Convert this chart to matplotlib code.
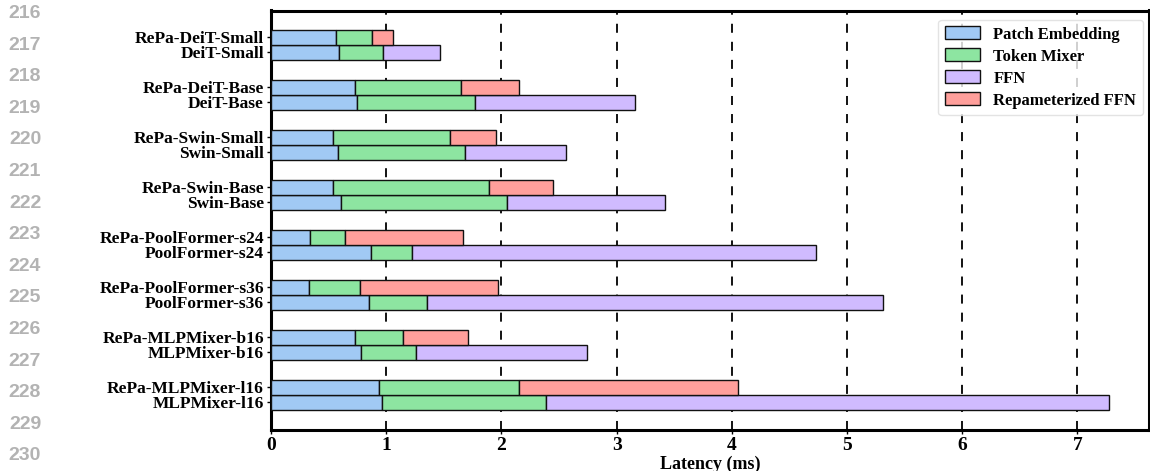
import matplotlib.pyplot as plt
import numpy as np

models = ['DeiT-Small', 'DeiT-Base', 'Swin-Small', 'Swin-Base',
          'PoolFormer-s24', 'PoolFormer-s36', 'MLPMixer-b16', 'MLPMixer-l16']

# latency of each part (ms), original models
base_patch = [0.59, 0.75, 0.58, 0.61, 0.87, 0.85, 0.78, 0.96]
base_mixer = [0.38, 1.02, 1.10, 1.44, 0.35, 0.50, 0.48, 1.43]
base_ffn = [0.50, 1.39, 0.88, 1.37, 3.51, 3.96, 1.48, 4.88]

# latency of each part (ms), RePa models
repa_patch = [0.56, 0.73, 0.54, 0.54, 0.34, 0.33, 0.73, 0.94]
repa_mixer = [0.32, 0.92, 1.01, 1.35, 0.30, 0.44, 0.42, 1.21]
repa_ffn = [0.18, 0.50, 0.40, 0.56, 1.03, 1.20, 0.56, 1.90]

parts = ['Patch Embedding', 'Token Mixer', 'FFN', 'Repameterized FFN']
colors = ['#a1c9f4', '#8de5a1', '#d0bbff', '#ff9f9b']

line_numbers = list(range(216, 231))

serif = 'Liberation Serif'

fig = plt.figure(figsize=(11.5, 4.71), dpi=100)
ax = fig.add_axes([271 / 1150, 41 / 471, 878 / 1150, 419.5 / 471])

idx = np.arange(len(models))
h = 0.3
y_repa = idx - h / 2
y_base = idx + h / 2
kw = dict(height=h, edgecolor='#111111', linewidth=1.0, zorder=3)

left = np.zeros(len(models))
ax.barh(y_base, base_patch, left=left, color=colors[0], label=parts[0], **kw)
left += base_patch
ax.barh(y_base, base_mixer, left=left, color=colors[1], label=parts[1], **kw)
left += base_mixer
ax.barh(y_base, base_ffn, left=left, color=colors[2], label=parts[2], **kw)

left = np.zeros(len(models))
ax.barh(y_repa, repa_patch, left=left, color=colors[0], **kw)
left += repa_patch
ax.barh(y_repa, repa_mixer, left=left, color=colors[1], **kw)
left += repa_mixer
ax.barh(y_repa, repa_ffn, left=left, color=colors[3], label=parts[3], **kw)

yt = np.concatenate([y_repa, y_base])
yl = ['RePa-' + m for m in models] + models
ax.set_yticks(yt)
ax.set_yticklabels(yl, fontfamily=serif, fontweight='bold', fontsize=12.5)
ax.set_ylim(7.7, -0.68)
ax.set_xlim(0, 878 / 115.2)
ax.set_xticks(range(8))
ax.set_xticklabels([str(i) for i in range(8)], fontfamily=serif, fontweight='bold', fontsize=14)
ax.set_xlabel('Latency (ms)', fontfamily=serif, fontweight='bold', fontsize=13, labelpad=1)
ax.tick_params(axis='both', length=3, width=1, pad=2)

for x in range(1, 8):
    ax.axvline(x, color='black', linestyle=(0, (5, 5)), linewidth=1.3, zorder=1)

for s in ax.spines.values():
    s.set_linewidth(2.2)

leg = ax.legend(loc='upper right', bbox_to_anchor=(0.993, 0.978), borderaxespad=0,
                prop={'family': serif, 'weight': 'bold', 'size': 12},
                labelspacing=0.35, handlelength=2.1, handleheight=0.8,
                fancybox=True, edgecolor='#dddddd')

for k, n in enumerate(line_numbers):
    fig.text(25 / 1150, 1 - (13.5 + 31.6 * k) / 471, str(n), ha='center', va='center',
             fontfamily='Liberation Sans', fontweight='bold', fontsize=14, color='#b3b3b3')

fig.savefig('out.png', dpi=100)
